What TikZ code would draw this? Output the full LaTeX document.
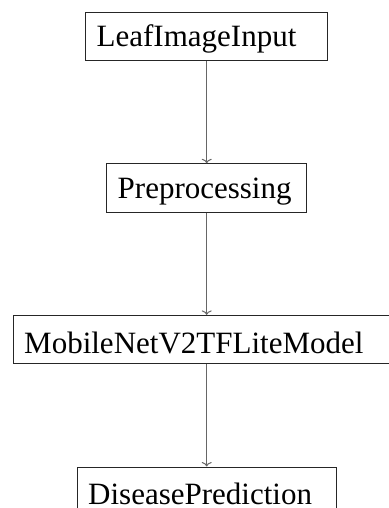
\documentclass[tikz,border=0pt]{standalone}
\usepackage{fontspec}
\setmainfont{Liberation Serif}
\usetikzlibrary{positioning, arrows.meta}
\tikzset{
    node distance=102.3pt, % Gap between two boxes of the pipeline
    block/.style={ % Sets the properties for each box
        draw=black!85,
        line width=0.8pt,
        align=left,
        inner xsep=11pt,
        inner ysep=0pt,
        minimum height=48.5pt,
        text height=27.5pt,
        font=\fontsize{31}{37}\selectfont
    },
    every edge/.style={ % Sets the properties for each arrow
        draw,
        black!60,
        line width=1pt,
        -{To[length=4.5pt,width=10pt]} % Small open arrowhead
    }
}

\begin{document}
\begin{tikzpicture}
            \useasboundingbox (0,0) rectangle (388pt,-508pt);
            \node[block, anchor=north, text width=220pt] (input) at (206.7pt,-11.7pt) {LeafImageInput};
            \node[block, below=of input, text width=178pt]   (prep)  {Preprocessing};
            \node[block, below=of prep, text width=365pt]    (model) {MobileNetV2TFLiteModel};
            \node[block, below=of model, text width=237pt]   (pred)  {DiseasePrediction};
            \draw   (input) edge (prep)
                    (prep)  edge (model)
                    (model) edge (pred)
            ;
        \end{tikzpicture}
\end{document}
